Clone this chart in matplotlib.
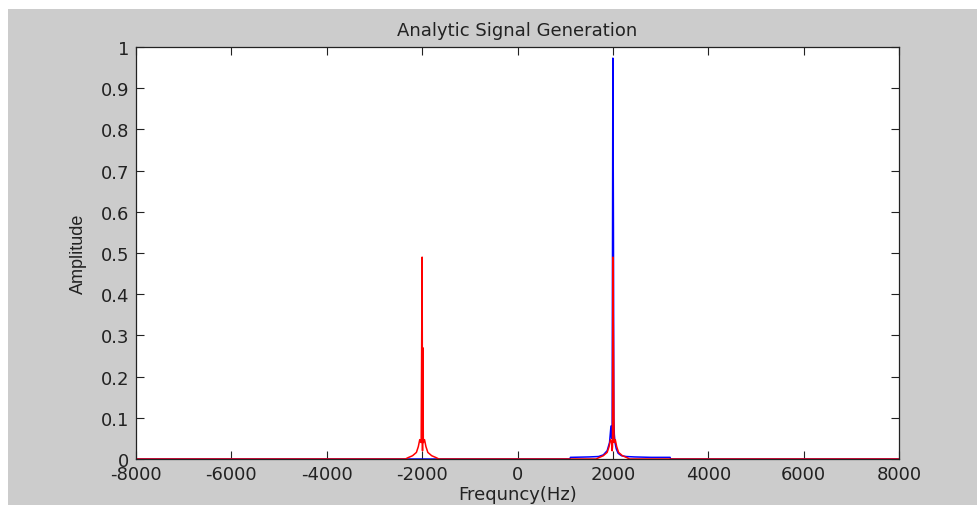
import matplotlib
matplotlib.use("Agg")
import matplotlib.pyplot as plt
from matplotlib.patches import Rectangle

# Spectrum of the analytic signal (blue) - only one-sided content around +2 kHz
freq_analytic = [-8000, 1100, 1110, 1500, 1700, 1800, 1880, 1930, 1960, 1975,
                 1985, 2000, 2012, 2020, 2030, 2045, 2070, 2110, 2180, 2280,
                 2450, 2800, 3200, 3210, 8000]
amp_analytic = [0.0, 0.0, 0.004, 0.005, 0.006, 0.010, 0.020, 0.040, 0.080, 0.050,
                0.060, 0.973, 0.555, 0.100, 0.060, 0.040, 0.025, 0.014, 0.008, 0.006,
                0.005, 0.004, 0.004, 0.0, 0.0]

# Spectrum of the real signal (red) - symmetric peaks at +/- 2 kHz
freq_real = [-8000, -2350, -2300, -2200, -2120, -2080, -2050, -2020, -2000, -1992,
             -1985, -1975, -1950, -1920, -1880, -1800, -1700, -1650,
             1650, 1700, 1800, 1880, 1920, 1950, 1975, 1985, 1992, 2000,
             2012, 2025, 2050, 2080, 2120, 2200, 2300, 2350, 8000]
amp_real = [0.0, 0.0, 0.003, 0.008, 0.016, 0.030, 0.047, 0.040, 0.490, 0.020,
            0.270, 0.040, 0.047, 0.030, 0.016, 0.008, 0.003, 0.0,
            0.0, 0.003, 0.008, 0.016, 0.030, 0.047, 0.040, 0.020, 0.030, 0.490,
            0.270, 0.040, 0.047, 0.030, 0.016, 0.008, 0.003, 0.0, 0.0]

x_ticks = [-8000, -6000, -4000, -2000, 0, 2000, 4000, 6000, 8000]
y_ticks = [0, 0.1, 0.2, 0.3, 0.4, 0.5, 0.6, 0.7, 0.8, 0.9, 1]
y_labels = ['0', '0.1', '0.2', '0.3', '0.4', '0.5', '0.6', '0.7', '0.8', '0.9', '1']

plt.rcParams['font.family'] = ['DejaVu Sans']

fig = plt.figure(figsize=(9.77, 5.06), dpi=100, facecolor='white')
# grey window background with a thin white margin on the top and left
fig.patches.append(Rectangle((8 / 977, 0), 1, 1 - 10 / 506, transform=fig.transFigure,
                             facecolor='#cccccc', edgecolor='none', zorder=-1))

ax = fig.add_axes([136 / 977, 46 / 506, 763 / 977, 412 / 506])
ax.plot(freq_analytic, amp_analytic, color='#0000ff', lw=1.1)
ax.plot(freq_real, amp_real, color='#ff0000', lw=1.1)

ax.set_xlim(-8000, 8000)
ax.set_ylim(0, 1)
ax.set_xticks(x_ticks)
ax.set_xticklabels([str(t) for t in x_ticks])
ax.set_yticks(y_ticks)
ax.set_yticklabels(y_labels)
ax.tick_params(direction='in', length=6, width=0.8, color='#222222', labelsize=13,
               labelcolor='#222222', top=True, right=True, pad=5)
ax.tick_params(axis='x', pad=4)
for s in ax.spines.values():
    s.set_color('#222222')
    s.set_linewidth(0.9)

ax.set_title('Analytic Signal Generation', fontsize=13, color='#222222', pad=9)
ax.set_xlabel('Frequncy(Hz)', fontsize=13, color='#222222', labelpad=2)
ax.set_ylabel('Amplitude', fontsize=13, color='#222222', labelpad=10,
              family='Liberation Sans')

fig.savefig('out.png', dpi=100, facecolor=fig.get_facecolor())
